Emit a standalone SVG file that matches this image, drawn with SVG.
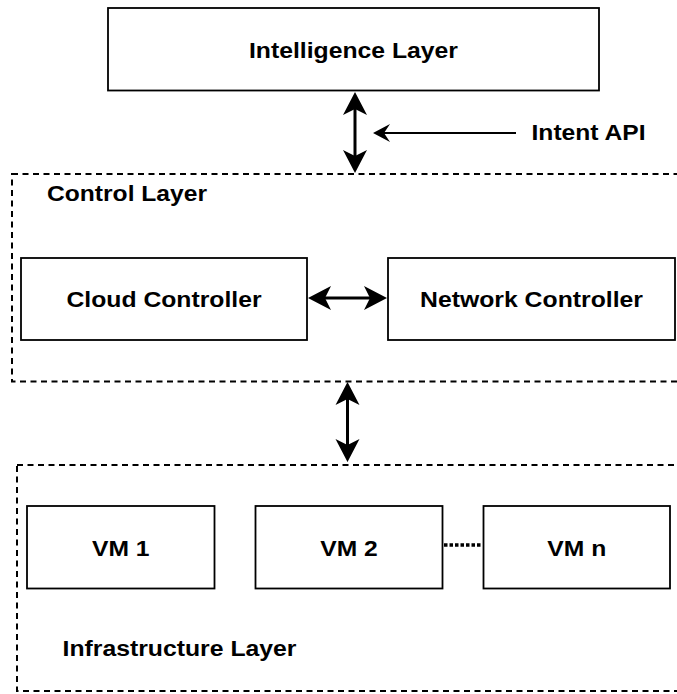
<svg xmlns="http://www.w3.org/2000/svg" width="677" height="694" viewBox="0 0 677 694">
<style>
.box{fill:#fff;stroke:#000;stroke-width:1.8}
.layer{fill:none;stroke:#000;stroke-width:2;stroke-dasharray:6 4.5}
.t{font-family:"Liberation Sans",Arial,Helvetica,sans-serif;font-weight:bold;font-size:22.5px;fill:#000}
.c{text-anchor:middle}
.thick{fill:none;stroke:#000;stroke-width:3}
.thin{fill:none;stroke:#000;stroke-width:1.8}
.dots{fill:none;stroke:#000;stroke-width:3.5;stroke-dasharray:3.5 2}
</style>
<defs>
<marker id="big" viewBox="-26 -14 28 28" refX="-14" refY="0" markerWidth="28" markerHeight="28" markerUnits="userSpaceOnUse" orient="auto-start-reverse">
<path d="M0 0 L-23 -12 L-17 0 L-23 12 Z" fill="#000"/>
</marker>
<marker id="small" viewBox="-19 -10 21 20" refX="-8" refY="0" markerWidth="21" markerHeight="20" markerUnits="userSpaceOnUse" orient="auto-start-reverse">
<path d="M0 0 L-17 -9 L-11 0 L-17 9 Z" fill="#000"/>
</marker>
</defs>

<g id="control-layer">
<rect class="layer" x="12" y="174" width="675" height="207.5"/>
<text class="t" x="47" y="201" textLength="160" lengthAdjust="spacingAndGlyphs">Control Layer</text>
</g>
<g id="infrastructure-layer">
<rect class="layer" x="17" y="465" width="670" height="226"/>
<text class="t" x="62.5" y="656" textLength="234" lengthAdjust="spacingAndGlyphs">Infrastructure Layer</text>
</g>

<g id="intelligence-layer">
<rect class="box" x="108" y="8" width="491" height="82.5"/>
<text class="t c" x="353.5" y="58" textLength="209" lengthAdjust="spacingAndGlyphs">Intelligence Layer</text>
</g>
<g id="intent-api">
<text class="t" x="531.5" y="139.5" textLength="114" lengthAdjust="spacingAndGlyphs">Intent API</text>
</g>
<g id="cloud-controller">
<rect class="box" x="21" y="258" width="286" height="82"/>
<text class="t c" x="164" y="307" textLength="195" lengthAdjust="spacingAndGlyphs">Cloud Controller</text>
</g>
<g id="network-controller">
<rect class="box" x="388" y="258" width="287" height="82"/>
<text class="t c" x="531.5" y="307" textLength="223" lengthAdjust="spacingAndGlyphs">Network Controller</text>
</g>
<g id="vm1">
<rect class="box" x="27" y="506" width="187.5" height="82.5"/>
<text class="t c" x="120.75" y="555.5" textLength="57.5" lengthAdjust="spacingAndGlyphs">VM 1</text>
</g>
<g id="vm2">
<rect class="box" x="255.5" y="506" width="187" height="82.5"/>
<text class="t c" x="349" y="555.5" textLength="57.5" lengthAdjust="spacingAndGlyphs">VM 2</text>
</g>
<g id="vmn">
<rect class="box" x="483.5" y="506" width="186.5" height="82.5"/>
<text class="t c" x="576.75" y="555.5" textLength="59" lengthAdjust="spacingAndGlyphs">VM n</text>
</g>

<g id="connectors">
<line class="thick" x1="355" y1="106" x2="355" y2="159" marker-start="url(#big)" marker-end="url(#big)"/>
<line class="thin" x1="516" y1="133" x2="381" y2="133" marker-end="url(#small)"/>
<line class="thick" x1="322" y1="298" x2="373" y2="298" marker-start="url(#big)" marker-end="url(#big)"/>
<line class="thick" x1="347.5" y1="396" x2="347.5" y2="448" marker-start="url(#big)" marker-end="url(#big)"/>
<line class="dots" x1="444" y1="545" x2="482" y2="545"/>
</g>
</svg>
